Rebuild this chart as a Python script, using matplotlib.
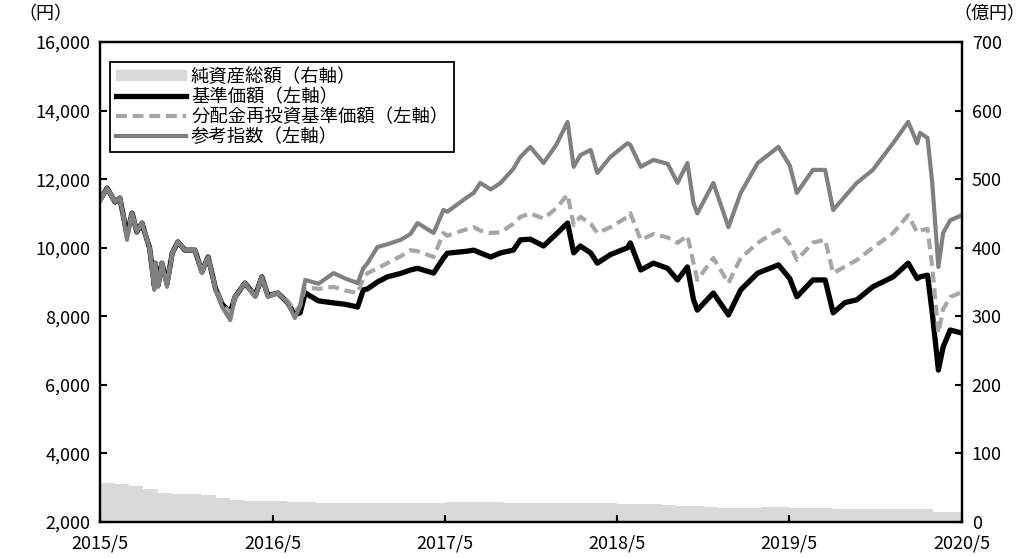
import numpy as np
import pandas as pd
import matplotlib
matplotlib.use("Agg")
import matplotlib.pyplot as plt
import matplotlib.dates as mdates
from matplotlib.lines import Line2D
from matplotlib.patches import Patch

plt.rcParams['font.family'] = ['Noto Sans CJK JP', 'DejaVu Sans']

# 基準価額・分配金再投資基準価額・参考指数（左軸, 円）
dates = ["2015-05-01", "2015-05-16", "2015-06-02", "2015-06-12", "2015-06-17", "2015-06-27",
         "2015-07-08", "2015-07-18", "2015-07-29", "2015-08-04", "2015-08-14", "2015-08-24",
         "2015-08-26", "2015-09-01", "2015-09-09", "2015-09-20", "2015-10-01", "2015-10-13",
         "2015-10-28", "2015-11-18", "2015-12-03", "2015-12-16", "2016-01-01", "2016-01-15",
         "2016-02-01", "2016-02-11", "2016-03-03", "2016-03-25", "2016-04-08", "2016-04-21",
         "2016-05-12", "2016-06-02", "2016-06-17", "2016-06-28", "2016-07-09", "2016-08-06",
         "2016-09-07", "2016-10-02", "2016-10-28", "2016-11-09", "2016-11-18", "2016-12-09",
         "2016-12-30", "2017-01-27", "2017-02-17", "2017-03-04", "2017-04-07", "2017-04-28",
         "2017-05-06", "2017-06-18", "2017-07-01", "2017-07-15", "2017-08-06", "2017-08-27",
         "2017-09-23", "2017-10-08", "2017-10-29", "2017-11-26", "2017-12-23", "2018-01-16",
         "2018-01-29", "2018-02-12", "2018-03-06", "2018-03-20", "2018-04-17", "2018-05-23",
         "2018-05-29", "2018-06-20", "2018-07-17", "2018-08-16", "2018-09-06", "2018-09-27",
         "2018-10-10", "2018-10-18", "2018-11-21", "2018-12-23", "2019-01-18", "2019-02-23",
         "2019-04-08", "2019-05-02", "2019-05-17", "2019-06-20", "2019-07-16", "2019-08-02",
         "2019-08-27", "2019-09-21", "2019-10-25", "2019-12-07", "2020-01-08", "2020-01-27",
         "2020-02-02", "2020-02-18", "2020-02-28", "2020-03-12", "2020-03-22", "2020-04-06",
         "2020-05-01"]

base_price = [11400, 11740, 11330, 11450, 11100, 10400, 11010, 10460, 10720, 10430, 10000, 8900,
              9550, 8900, 9550, 8950, 9840, 10170, 9930, 9930, 9300, 9730, 8800, 8350,
              8100, 8560, 8970, 8600, 9150, 8600, 8680, 8390, 8050, 8100, 8680, 8450,
              8390, 8350, 8270, 8770, 8800, 9000, 9150, 9250, 9350, 9400, 9260, 9700,
              9840, 9900, 9930, 9850, 9730, 9850, 9930, 10230, 10250, 10050, 10400, 10720,
              9850, 10050, 9850, 9550, 9800, 10000, 10140, 9350, 9550, 9400, 9060, 9440,
              8480, 8180, 8680, 8040, 8770, 9260, 9500, 9100, 8570, 9060, 9060, 8100,
              8400, 8480, 8860, 9150, 9550, 9100, 9150, 9200, 8100, 6430, 7100, 7600,
              7510]

reinvested = [11400, 11740, 11330, 11450, 11100, 10400, 11010, 10460, 10720, 10430, 10000, 8900,
              9550, 8900, 9550, 8950, 9840, 10170, 9930, 9930, 9300, 9730, 8800, 8350,
              8100, 8560, 8970, 8600, 9150, 8600, 8680, 8450, 8150, 8300, 8860, 8800,
              8860, 8750, 8680, 9100, 9260, 9400, 9550, 9750, 9930, 9900, 9730, 10430,
              10350, 10550, 10600, 10500, 10430, 10450, 10700, 10900, 11000, 10850, 11150, 11550,
              10660, 10900, 10700, 10430, 10600, 10900, 11010, 10230, 10400, 10300, 10140, 10350,
              9550, 9060, 9700, 8970, 9700, 10140, 10520, 10100, 9640, 10150, 10230, 9260,
              9450, 9640, 10000, 10430, 10950, 10450, 10500, 10550, 9440, 7510, 8200, 8560,
              8710]

reference = [11350, 11740, 11330, 11450, 11100, 10230, 11010, 10460, 10720, 10430, 10000, 8770,
             9550, 8860, 9550, 8860, 9840, 10170, 9930, 9930, 9260, 9730, 8770, 8270,
             7890, 8560, 8970, 8560, 9150, 8560, 8680, 8390, 7950, 8300, 9060, 8950,
             9260, 9100, 8970, 9400, 9550, 10020, 10100, 10230, 10400, 10720, 10430, 11100,
             11050, 11480, 11600, 11890, 11700, 11890, 12300, 12650, 12940, 12470, 13000, 13670,
             12360, 12700, 12850, 12180, 12650, 13050, 13000, 12360, 12560, 12450, 11890, 12470,
             11300, 11000, 11890, 10600, 11600, 12470, 12940, 12400, 11600, 12270, 12270, 11100,
             11500, 11890, 12270, 13050, 13670, 13050, 13350, 13200, 11890, 9440, 10430, 10800,
             10950]

# 純資産総額（右軸, 億円）月次
na_months = pd.date_range("2015-05-01", "2020-05-01", freq="MS")
net_assets = [57, 55, 52, 48, 43, 41, 41, 39,
              35, 32, 31, 31, 30, 29, 29, 28, 28, 28, 28, 28,
              28, 28, 28, 28, 29, 29, 29, 29, 28, 28, 28, 28,
              28, 27, 27, 27, 26, 26, 26, 25, 24, 23, 22, 21,
              21, 21, 22, 22, 21, 21, 20, 19, 19, 19, 19, 19,
              19, 19, 14, 14, 14]

left_ticks = [2000, 4000, 6000, 8000, 10000, 12000, 14000, 16000]
right_ticks = [0, 100, 200, 300, 400, 500, 600, 700]
x_ticks = ["2015-05-01", "2016-05-01", "2017-05-01", "2018-05-01", "2019-05-01", "2020-05-01"]
x_labels = ["2015/5", "2016/5", "2017/5", "2018/5", "2019/5", "2020/5"]

d = pd.to_datetime(dates)

fig = plt.figure(figsize=(10.26, 5.58), dpi=100)
ax = fig.add_axes([0.0975, 0.0645, 0.8401, 0.8602])
ax2 = ax.twinx()
ax.set_zorder(2)
ax.patch.set_visible(False)

ax2.fill_between(na_months, net_assets, 0, step="post", color="#d9d9d9", lw=0)
ax2.set_ylim(0, 700)
ax2.set_yticks(right_ticks)

ax.plot(d, base_price, color="black", lw=3.8, solid_capstyle="round")
ax.plot(d, reinvested, color="#a6a6a6", lw=3.0, dashes=(2.6, 1.4))
ax.plot(d, reference, color="#808080", lw=3.0)

ax.set_ylim(2000, 16000)
ax.set_yticks(left_ticks)
ax.set_yticklabels([f"{v:,}" for v in left_ticks])
ax.set_xlim(pd.Timestamp("2015-05-01"), pd.Timestamp("2020-05-01"))
ax.set_xticks(pd.to_datetime(x_ticks))
ax.set_xticklabels(x_labels)

for a in (ax, ax2):
    for s in a.spines.values():
        s.set_linewidth(1.6)
    a.tick_params(direction="in", length=5, width=1.5, labelsize=13, pad=7)
ax.tick_params(axis="x", pad=9)

fig.text(0.044, 0.975, "（円）", fontsize=13, ha="center", va="center")
fig.text(0.999, 0.975, "（億円）", fontsize=13, ha="right", va="center")

handles = [Patch(color="#d9d9d9"),
           Line2D([], [], color="black", lw=3.8),
           Line2D([], [], color="#a6a6a6", lw=3.0, dashes=(2.6, 1.4)),
           Line2D([], [], color="#808080", lw=3.0)]
labels = ["純資産総額（右軸）", "基準価額（左軸）", "分配金再投資基準価額（左軸）", "参考指数（左軸）"]
leg = ax.legend(handles, labels, loc="upper left", bbox_to_anchor=(0.012, 0.958),
                borderaxespad=0, fancybox=False, edgecolor="black", fontsize=13.2,
                handlelength=3.8, handleheight=0.5, handletextpad=0.3,
                labelspacing=0.12, borderpad=0.3, framealpha=1)
leg.get_frame().set_linewidth(1.3)

fig.savefig("out.png", dpi=100)
